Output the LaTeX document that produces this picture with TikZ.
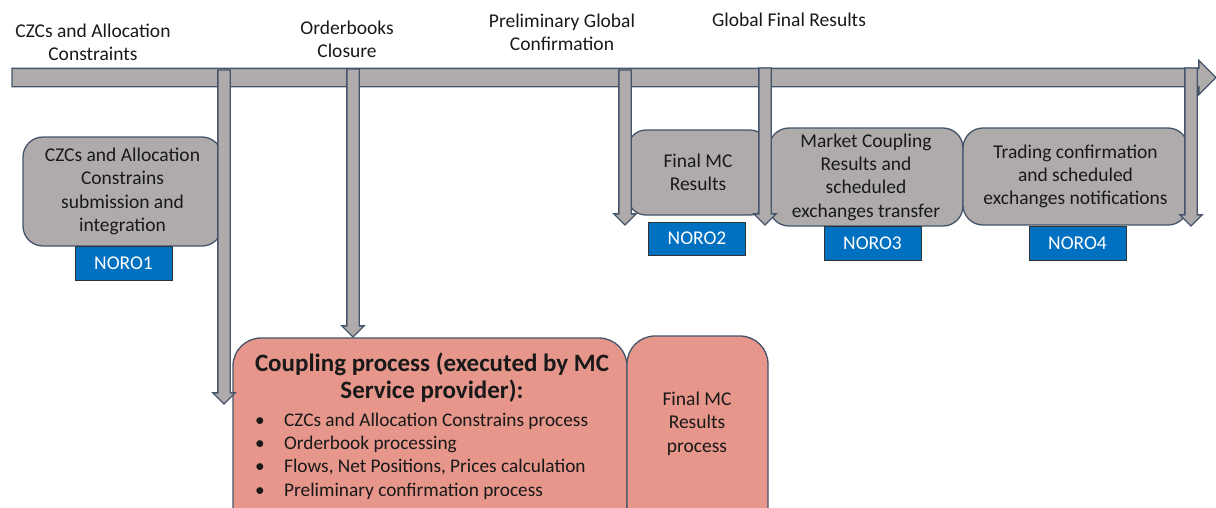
\documentclass[tikz,border=0pt]{standalone}
\usepackage{fontspec}
\setmainfont{Carlito}
\usetikzlibrary{shapes.arrows,positioning}

\definecolor{barfill}{HTML}{AFABAB}
\definecolor{edgeblue}{HTML}{44546A}
\definecolor{noroblue}{HTML}{0070C0}
\definecolor{salmon}{HTML}{E6968A}
\newcommand{\bulletline}[1]{\makebox[29pt][l]{\textbullet}#1}

\begin{document}
\begin{tikzpicture}[x=1pt, y=-1pt,
    every node/.style = {font=\fontsize{19.5}{23.3}\selectfont, text=black!90},
    phase/.style = {rectangle, rounded corners=20pt, draw=edgeblue, line width=1.3pt, fill=barfill, align=center, inner sep=0pt},
    process/.style = {phase, fill=salmon},
    noro/.style = {rectangle, draw=black!80, line width=1pt, fill=noroblue, text=white, minimum width=97pt, minimum height=34pt, inner sep=0pt},
    milestone/.style = {align=center, inner sep=0pt},
    timeline/.style = {single arrow, draw=edgeblue, fill=barfill, line width=1.3pt, inner xsep=0pt, inner ysep=8.5pt, single arrow head extend=8pt, single arrow tip angle=90, single arrow head indent=0pt, anchor=tail, outer sep=0pt},
    drop/.style = {timeline, rotate=-90, inner ysep=5.5pt, single arrow head extend=5pt}
]
\clip (0,0) rectangle (1216,507);

% Milestones
\node (czclabel) [milestone] at (93,42.5) {CZCs and Allocation\\Constraints};
\node (oblabel) [milestone] at (347,39.5) {Orderbooks\\Closure};
\node (prelimlabel) [milestone] at (562,32) {Preliminary Global\\Confirmation};
\node (globallabel) [milestone] at (789,20) {Global Final Results};

% Time line
\node (bar) [timeline, minimum height=1204pt] at (12,77.5) {};

% Phases
\node (czcbox) [phase, minimum width=199pt, minimum height=109pt] at (122.5,191.5) {CZCs and Allocation\\Constrains\\submission and\\integration};
\node (finalbox) [phase, rounded corners=18pt, minimum width=140pt, minimum height=85pt] at (698,172.5) {Final MC\\Results};
\node (mcbox) [phase, minimum width=194pt, minimum height=98pt] at (866,177) {Market Coupling\\Results and\\scheduled\\exchanges transfer};
\node (tradebox) [phase, minimum width=225pt, minimum height=97pt] at (1075.5,176.5) {Trading confirmation\\and scheduled\\exchanges notifications};

\node (couplingbox) [process, rounded corners=28pt, minimum width=394pt, minimum height=202pt] at (430,439) {};
\node (resultsbox) [process, rounded corners=28pt, minimum width=141pt, minimum height=204pt] at (697.5,438) {};
\node (couplingtitle) [milestone, font=\fontsize{25}{27}\selectfont\bfseries] at (432,377.5) {Coupling process (executed by MC\\Service provider):};
\node (couplingsteps) [milestone, align=left, anchor=west, font=\fontsize{19.3}{23.4}\selectfont] at (255,456) {\bulletline{CZCs and Allocation Constrains process}\\\bulletline{Orderbook processing}\\\bulletline{Flows, Net Positions, Prices calculation}\\\bulletline{Preliminary confirmation process}};
\node (resultstext) [milestone] at (697,423.5) {Final MC\\Results\\process};

% NORO tags
\node (noro1) [noro] at (123.5,263.5) {NORO1};
\node (noro2) [noro, minimum height=33pt] at (697,238.5) {NORO2};
\node (noro3) [noro] at (872.5,243) {NORO3};
\node (noro4) [noro] at (1077.5,243) {NORO4};

% Drops from the time line
\node (czcdrop) [drop, minimum height=334pt] at (224,70) {};
\node (obdrop) [drop, minimum height=268pt] at (353,69) {};
\node (prelimdrop) [drop, minimum height=155pt] at (625,70) {};
\node (globaldrop) [drop, minimum height=157pt] at (765,68) {};
\node (notifydrop) [drop, minimum height=158pt] at (1191,68) {};

\end{tikzpicture}
\end{document}
